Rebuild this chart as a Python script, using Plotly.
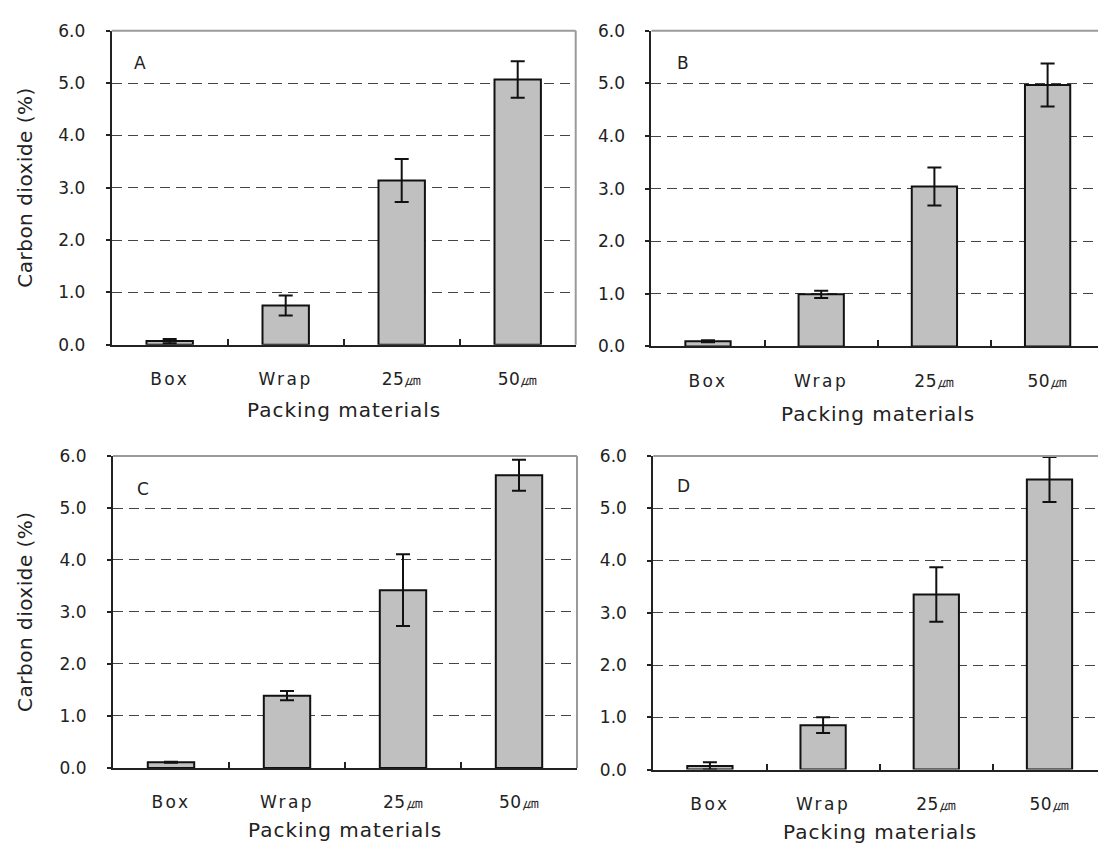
import plotly.graph_objects as go

# Packing materials on the x axis
categories = ["Box", "Wrap", "25㎛", "50㎛"]

# Carbon dioxide concentration (%) per panel, with error half-widths
co2_a = [0.07, 0.75, 3.14, 5.07]
err_a = [0.04, 0.19, 0.41, 0.35]

co2_b = [0.10, 0.99, 3.04, 4.97]
err_b = [0.02, 0.07, 0.36, 0.41]

co2_c = [0.11, 1.39, 3.42, 5.63]
err_c = [0.01, 0.09, 0.69, 0.30]

co2_d = [0.07, 0.85, 3.35, 5.55]
err_d = [0.07, 0.15, 0.52, 0.43]

y_ticks = [0, 1, 2, 3, 4, 5, 6]
y_tick_text = ["0.0", "1.0", "2.0", "3.0", "4.0", "5.0", "6.0"]

panel_letters = ["A", "B", "C", "D"]
x_title = "Packing materials"
y_title = "Carbon dioxide (%)"

FONT = "DejaVu Sans"
W, H = 1098, 857


def spaced(text, px):
    """Wrap text in a span with extra letter spacing."""
    return '<span style="letter-spacing:%spx">%s</span>' % (px, text)


# wide tracking for plain words, tight for the micrometre labels
x_tick_text = [spaced(c, 0.5 if "㎛" in c else 2.5) for c in categories]

# plot-area boxes in pixels: left, right, top, bottom
boxes = [
    (111.7, 575.7, 21.3, 342.7),
    (651.4, 1098.0, 21.3, 344.5),
    (113.0, 577.0, 456.7, 776.0),
    (653.3, 1098.0, 456.7, 777.7),
]
series = [(co2_a, err_a), (co2_b, err_b), (co2_c, err_c), (co2_d, err_d)]
letter_pos = [(0.044, 0.898), (0.052, 0.899), (0.047, 0.893), (0.049, 0.906)]
title_drop = [65, 68, 62, 62]

fig = go.Figure()
annotations = []
shapes = []

for i, ((vals, errs), (l, r, t, b)) in enumerate(zip(series, boxes)):
    n = "" if i == 0 else str(i + 1)
    xa, ya = "x" + n, "y" + n
    fig.add_trace(go.Bar(
        x=categories, y=vals,
        xaxis=xa, yaxis=ya,
        marker=dict(color="#c0c0c0", line=dict(color="#111111", width=2)),
        error_y=dict(type="data", array=errs, visible=True,
                     color="#111111", thickness=2, width=7),
        showlegend=False,
    ))

    # category width stays the same in px; the right-hand panels run off the page edge
    cat_w = 116.0 if i in (0, 2) else 113.2
    x_hi = -0.5 + (r - l) / cat_w

    xdom = [l / W, r / W]
    ydom = [1 - b / H, 1 - t / H]
    fig.layout["xaxis" + n] = dict(
        domain=xdom, anchor=ya, type="category",
        range=[-0.5, x_hi],
        tickmode="array", tickvals=categories, ticktext=x_tick_text,
        showline=True, linecolor="#222222", linewidth=2,
        ticks="inside", tickson="boundaries", ticklen=6,
        tickcolor="#222222", tickwidth=1.5,
        showgrid=False, ticklabelstandoff=18,
        tickfont=dict(family=FONT, size=17, color="#222222"),
    )
    fig.layout["yaxis" + n] = dict(
        domain=ydom, anchor=xa,
        range=[0, 6], tickvals=y_ticks, ticktext=y_tick_text,
        showline=True, linecolor="#222222", linewidth=2,
        ticks="outside", ticklen=4, tickcolor="#222222", tickwidth=1.5,
        showgrid=True, gridcolor="#444444", gridwidth=1, griddash="10px,6px",
        zeroline=False, ticklabelstandoff=17,
        tickfont=dict(family=FONT, size=17, color="#222222"),
    )

    # gray frame on top (and right, where the panel ends on the page)
    shapes.append(dict(type="line", xref=xa + " domain", yref=ya + " domain",
                       x0=0, x1=1, y0=1, y1=1,
                       line=dict(color="#9a9a9a", width=2)))
    if i in (0, 2):
        shapes.append(dict(type="line", xref=xa + " domain", yref=ya + " domain",
                           x0=1, x1=1, y0=0, y1=1,
                           line=dict(color="#9a9a9a", width=2)))

    # panel letter
    lx, ly = letter_pos[i]
    annotations.append(dict(text=panel_letters[i], xref=xa + " domain", yref=ya + " domain",
                            x=lx, y=ly, xanchor="left", yanchor="middle", showarrow=False,
                            font=dict(family=FONT, size=17, color="#222222")))
    # x-axis title
    annotations.append(dict(text=spaced(x_title, 1), xref=xa, yref=ya + " domain",
                            x=1.5, y=0, yshift=-title_drop[i],
                            xanchor="center", yanchor="middle", showarrow=False,
                            font=dict(family=FONT, size=20, color="#222222")))
    # y-axis title on the left-hand panels
    if i in (0, 2):
        annotations.append(dict(text=spaced(y_title, 0.5), xref="paper", yref=ya + " domain",
                                x=25 / W, y=0.5, textangle=-90,
                                xanchor="center", yanchor="middle", showarrow=False,
                                font=dict(family=FONT, size=20, color="#222222")))

fig.update_layout(
    width=W, height=H,
    margin=dict(l=0, r=0, t=0, b=0),
    paper_bgcolor="white", plot_bgcolor="white",
    bargap=0.6,
    annotations=annotations,
    shapes=shapes,
    font=dict(family=FONT),
)

fig.write_html("out.html")
